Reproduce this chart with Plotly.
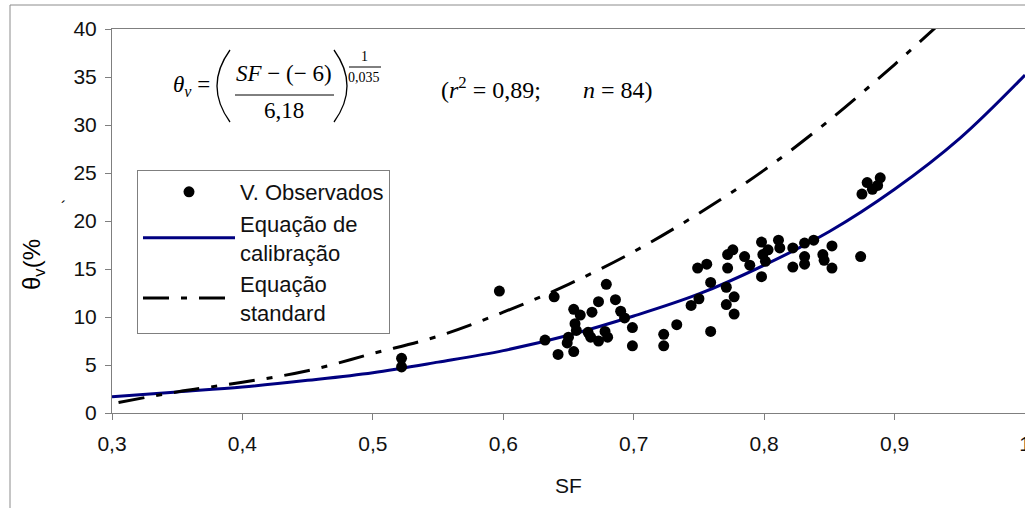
import plotly.graph_objects as go

# ---------------- data ----------------
obs_sf = [0.522, 0.522, 0.597, 0.639, 0.632, 0.642, 0.654, 0.649, 0.650, 0.654,
          0.659, 0.655, 0.656, 0.668, 0.673, 0.679, 0.686, 0.690, 0.693, 0.665,
          0.667, 0.678, 0.680, 0.673, 0.699, 0.699, 0.723, 0.723, 0.733, 0.744,
          0.750, 0.759, 0.759, 0.749, 0.756, 0.771, 0.771, 0.777, 0.777, 0.772,
          0.772, 0.776, 0.785, 0.789, 0.798, 0.799, 0.801, 0.798, 0.803, 0.811,
          0.812, 0.822, 0.822, 0.831, 0.831, 0.831, 0.838, 0.845, 0.846, 0.852,
          0.852, 0.874, 0.875, 0.879, 0.883, 0.887, 0.889]
obs_theta = [5.7, 4.8, 12.7, 12.1, 7.6, 6.1, 6.4, 7.3, 7.9, 10.8,
             10.2, 9.3, 8.6, 10.5, 11.6, 13.4, 11.8, 10.6, 9.9, 8.4,
             7.9, 8.5, 7.9, 7.5, 8.9, 7.0, 8.2, 7.0, 9.2, 11.2,
             11.9, 13.6, 8.5, 15.1, 15.5, 13.1, 11.3, 12.1, 10.3, 15.1,
             16.5, 17.0, 16.3, 15.4, 17.8, 16.5, 15.8, 14.2, 17.0, 18.0,
             17.2, 17.2, 15.2, 17.7, 16.3, 15.5, 18.0, 16.5, 15.9, 17.4,
             15.1, 16.3, 22.8, 24.0, 23.3, 23.7, 24.5]

cal_sf = [0.30, 0.35, 0.40, 0.45, 0.50, 0.55, 0.60, 0.65, 0.70, 0.75, 0.80, 0.85, 0.90, 0.95, 1.00]
cal_theta = [1.7, 2.2, 2.7, 3.4, 4.2, 5.3, 6.5, 8.1, 10.1, 12.4, 15.4, 18.9, 23.3, 28.6, 35.2]

std_sf = [0.305, 0.35, 0.40, 0.45, 0.50, 0.55, 0.60, 0.65, 0.70, 0.75, 0.80, 0.85, 0.90, 0.935]
std_theta = [1.1, 2.2, 3.2, 4.4, 6.2, 8.0, 10.5, 13.4, 16.8, 20.8, 25.3, 30.5, 36.3, 40.6]

x_ticks = [0.3, 0.4, 0.5, 0.6, 0.7, 0.8, 0.9, 1.0]
y_ticks = [0, 5, 10, 15, 20, 25, 30, 35, 40]

# ---------------- layout geometry helpers ----------------
W_FIG, H_FIG = 1025, 508
L, T, R, B = 112, 29, 0, 95
PW, PH = W_FIG - L - R, H_FIG - T - B


def px(x):
    return (x - L) / PW


def py(y):
    return (T + PH - y) / PH


SANS = "Arial, Liberation Sans, sans-serif"
SERIF = "Times New Roman, Liberation Serif, serif"
FS = 21

fig = go.Figure()
fig.add_trace(go.Scatter(
    x=cal_sf, y=cal_theta, mode="lines", line=dict(color="#000080", width=3, shape="spline"),
    name="Equação de<br>calibração", legendrank=2))
fig.add_trace(go.Scatter(
    x=std_sf, y=std_theta, mode="lines",
    line=dict(color="black", width=3, dash="26px,12px,6px,12px", shape="spline"),
    name="Equação<br>standard", legendrank=3))
fig.add_trace(go.Scatter(
    x=obs_sf, y=obs_theta, mode="markers", marker=dict(color="black", size=11),
    name="V. Observados", legendrank=1))

axis_common = dict(showgrid=False, zeroline=False, showline=True, linecolor="#7f7f7f",
                   linewidth=1, ticks="outside", ticklen=6, tickcolor="#7f7f7f", automargin=False,
                   ticklabeloverflow="allow",
                   tickfont=dict(family=SANS, size=FS, color="#111"))
fig.update_xaxes(range=[0.3, 1.0], tickvals=x_ticks, mirror=True, ticklabelstandoff=6,
                 title=dict(text="SF", font=dict(family=SANS, size=FS, color="#111"), standoff=24),
                 **axis_common)
fig.update_yaxes(range=[0, 40], tickvals=y_ticks, ticklabelstandoff=4, **axis_common)

ann = []
def A(text, x, y, size, family=SERIF, **kw):
    ann.append(dict(text=text, x=px(x), y=py(y), xref="paper", yref="paper", showarrow=False,
                    xanchor="center", yanchor="middle",
                    font=dict(family=family, size=size, color="black"), **kw))

A("<i>θ</i><sub><i>v</i></sub> =", 191, 86, 23)
A("<i>SF</i> − (− 6)", 284, 73, 23)
A("6,18", 284, 111, 23)
A("1", 364, 57, 14)
A("0,035", 364, 77, 14)
A("(<i>r</i><sup>2</sup> = 0,89;\u00a0\u00a0\u00a0\u00a0\u00a0\u00a0 <i>n</i> = 84)", 546, 88, 24)
A("θ<sub>v</sub>(%", 33, 265, 24, family=SANS, textangle=-90)
A("´", 63, 207, 16, family=SANS)


def P(pts):
    # SVG path in paper coordinates from pixel points
    (x0, y0), (cx, cy), (x1, y1) = pts
    return f"M {px(x0)} {py(y0)} Q {px(cx)} {py(cy)} {px(x1)} {py(y1)}"


shapes = [
    dict(type="line", xref="paper", yref="paper", x0=px(235), x1=px(334), y0=py(95), y1=py(95),
         line=dict(color="black", width=1)),
    dict(type="line", xref="paper", yref="paper", x0=px(349), x1=px(381), y0=py(67), y1=py(67),
         line=dict(color="black", width=1)),
    dict(type="path", xref="paper", yref="paper", path=P([(230, 50), (204, 86), (230, 122)]),
         line=dict(color="black", width=1.3)),
    dict(type="path", xref="paper", yref="paper", path=P([(334, 50), (360, 86), (334, 122)]),
         line=dict(color="black", width=1.3)),
    dict(type="rect", xref="paper", yref="paper", x0=px(10), x1=px(1040), y0=py(520), y1=py(5),
         line=dict(color="#8c8c8c", width=1), layer="below"),
]

fig.update_layout(
    width=W_FIG, height=H_FIG, margin=dict(l=L, r=R, t=T, b=B, pad=0, autoexpand=False),
    paper_bgcolor="white", plot_bgcolor="white", separators=",.",
    showlegend=True,
    legend=dict(x=px(137), y=py(170), xanchor="left", yanchor="top", bgcolor="white",
                bordercolor="#7f7f7f", borderwidth=1, font=dict(family=SANS, size=22, color="#111"),
                itemwidth=92, tracegroupgap=0),
    annotations=ann, shapes=shapes,
)

fig.write_html("out.html", config={"displayModeBar": False},
               post_script="document.body.style.margin='0';document.body.style.overflow='hidden';")
